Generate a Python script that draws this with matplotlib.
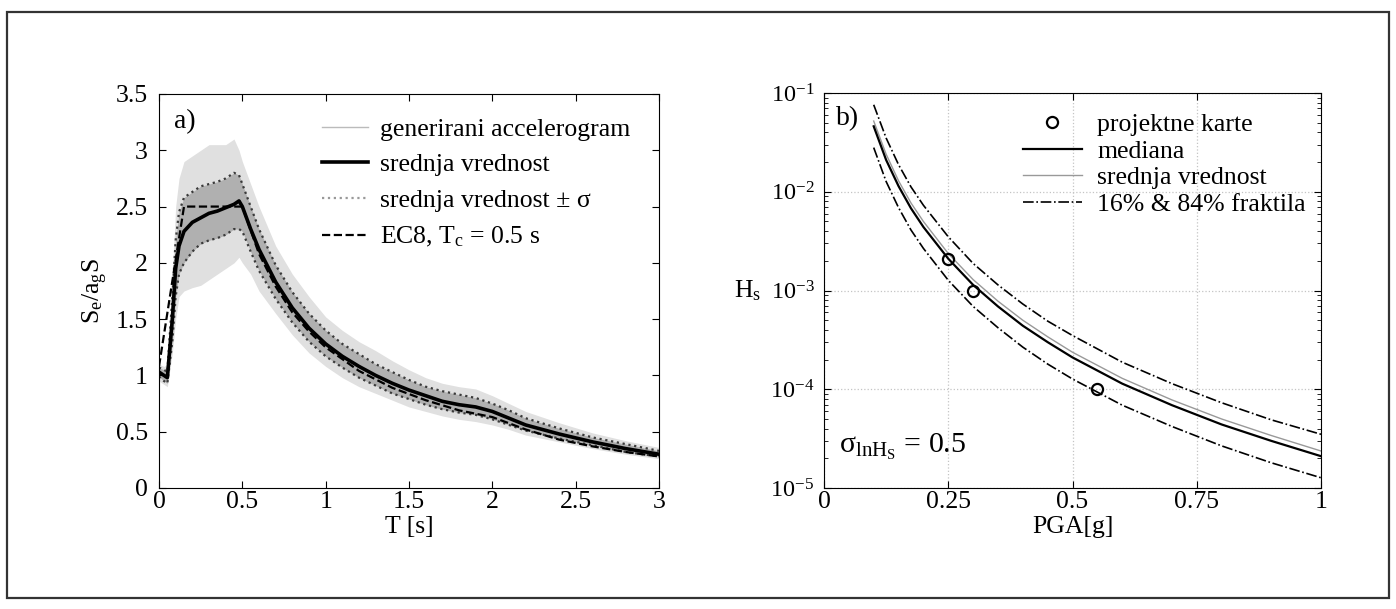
import matplotlib
matplotlib.use('Agg')
import matplotlib.pyplot as plt
from matplotlib.lines import Line2D
from matplotlib.patches import Rectangle

plt.rcParams['font.family'] = ['Liberation Serif', 'DejaVu Serif']
plt.rcParams['mathtext.fontset'] = 'custom'
plt.rcParams['mathtext.rm'] = 'Liberation Serif'
plt.rcParams['mathtext.it'] = 'Liberation Serif:italic'

# --- a) spectra, values ---
T = [0, 0.03, 0.05, 0.08, 0.1, 0.12, 0.15, 0.2, 0.25, 0.3, 0.35, 0.4, 0.45, 0.48,
     0.5, 0.55, 0.6, 0.7, 0.8, 0.9, 1.0, 1.1, 1.2, 1.3, 1.4, 1.5, 1.6, 1.7, 1.8,
     1.9, 2.0, 2.1, 2.2, 2.4, 2.6, 2.8, 3.0]
mean = [1.03, 1.0, 0.98, 1.5, 1.95, 2.15, 2.28, 2.36, 2.4, 2.44, 2.46, 2.49, 2.52, 2.55,
        2.5, 2.3, 2.12, 1.83, 1.6, 1.42, 1.28, 1.17, 1.08, 1.0, 0.93, 0.87, 0.82, 0.77,
        0.74, 0.72, 0.68, 0.62, 0.56, 0.48, 0.41, 0.35, 0.30]
sig_hi = [1.07, 1.05, 1.03, 1.7, 2.2, 2.45, 2.58, 2.63, 2.68, 2.7, 2.72, 2.75, 2.8, 2.78,
          2.7, 2.5, 2.3, 1.98, 1.74, 1.55, 1.4, 1.28, 1.19, 1.1, 1.03, 0.96, 0.9, 0.86,
          0.83, 0.8, 0.75, 0.69, 0.62, 0.53, 0.45, 0.39, 0.33]
sig_lo = [0.99, 0.95, 0.93, 1.3, 1.7, 1.9, 2.0, 2.1, 2.17, 2.2, 2.22, 2.25, 2.3, 2.3,
          2.28, 2.1, 1.93, 1.68, 1.47, 1.3, 1.17, 1.07, 0.98, 0.91, 0.84, 0.79, 0.74, 0.70,
          0.67, 0.65, 0.61, 0.56, 0.51, 0.44, 0.38, 0.32, 0.28]
cloud_hi = [1.1, 1.08, 1.1, 1.9, 2.5, 2.75, 2.9, 2.95, 3.0, 3.05, 3.05, 3.05, 3.1, 3.0,
            2.9, 2.7, 2.5, 2.15, 1.9, 1.7, 1.52, 1.4, 1.3, 1.22, 1.13, 1.05, 0.98, 0.93,
            0.9, 0.88, 0.82, 0.75, 0.68, 0.58, 0.49, 0.42, 0.36]
cloud_lo = [0.95, 0.92, 0.9, 1.2, 1.5, 1.7, 1.75, 1.78, 1.8, 1.85, 1.9, 1.95, 2.0, 2.05,
            2.0, 1.9, 1.75, 1.55, 1.36, 1.2, 1.08, 0.98, 0.9, 0.84, 0.78, 0.72, 0.68, 0.64,
            0.61, 0.59, 0.56, 0.52, 0.47, 0.41, 0.35, 0.30, 0.26]
T_ec8 = [0, 0.15, 0.5, 0.6, 0.7, 0.8, 0.9, 1.0, 1.2, 1.4, 1.6, 1.8, 2.0, 2.2, 2.4, 2.6, 2.8, 3.0]
ec8 = [1.08, 2.5, 2.5, 2.08, 1.79, 1.56, 1.39, 1.25, 1.04, 0.89, 0.78, 0.69, 0.63, 0.52,
       0.43, 0.37, 0.32, 0.28]
xt_a = [0, 0.5, 1, 1.5, 2, 2.5, 3]
xl_a = ['0', '0.5', '1', '1.5', '2', '2.5', '3']
yt_a = [0, 0.5, 1, 1.5, 2, 2.5, 3, 3.5]
yl_a = ['0', '0.5', '1', '1.5', '2', '2.5', '3', '3.5']

# --- b) hazard curves ---
pga = [0.1, 0.125, 0.15, 0.175, 0.2, 0.25, 0.3, 0.35, 0.4, 0.45, 0.5, 0.6, 0.7, 0.8, 0.9, 1.0]
median = [4.6e-2, 2.1e-2, 1.14e-2, 6.8e-3, 4.4e-3, 2.1e-3, 1.14e-3, 6.9e-4, 4.4e-4, 3.0e-4,
          2.1e-4, 1.14e-4, 6.9e-5, 4.4e-5, 3.0e-5, 2.1e-5]
mean_h = [5.2e-2, 2.4e-2, 1.29e-2, 7.7e-3, 5.0e-3, 2.37e-3, 1.29e-3, 7.8e-4, 5.0e-4, 3.4e-4,
          2.37e-4, 1.29e-4, 7.8e-5, 5.0e-5, 3.4e-5, 2.37e-5]
frac84 = [7.6e-2, 3.5e-2, 1.88e-2, 1.12e-2, 7.3e-3, 3.5e-3, 1.88e-3, 1.14e-3, 7.3e-4, 4.9e-4,
          3.5e-4, 1.88e-4, 1.14e-4, 7.3e-5, 4.9e-5, 3.5e-5]
frac16 = [2.8e-2, 1.27e-2, 6.9e-3, 4.1e-3, 2.67e-3, 1.27e-3, 6.9e-4, 4.2e-4, 2.67e-4, 1.8e-4,
          1.27e-4, 6.9e-5, 4.2e-5, 2.67e-5, 1.8e-5, 1.27e-5]
karte_x = [0.25, 0.3, 0.55]
karte_y = [2.1e-3, 1.0e-3, 1.0e-4]
xt_b = [0, 0.25, 0.5, 0.75, 1]
xl_b = ['0', '0.25', '0.5', '0.75', '1']
yt_b = [1e-5, 1e-4, 1e-3, 1e-2, 1e-1]
yl_b = [r'$10^{-5}$', r'$10^{-4}$', r'$10^{-3}$', r'$10^{-2}$', r'$10^{-1}$']

W, H = 1396, 609
fig = plt.figure(figsize=(W / 100, H / 100), dpi=100)
fig.patches.append(Rectangle((7 / W, 1 - 598 / H), 1382 / W, 586 / H, transform=fig.transFigure,
                             fill=False, edgecolor='#333333', lw=1.6))

fs = 18.5

# a)
ax1 = fig.add_axes([159 / W, 1 - 488 / H, 500 / W, 394 / H])
ax1.fill_between(T, cloud_lo, cloud_hi, color='#e0e0e0', lw=0)
ax1.fill_between(T, sig_lo, sig_hi, color='#b0b0b0', lw=0)
ax1.plot(T, sig_hi, color='#3a3a3a', ls=':', lw=1.6)
ax1.plot(T, sig_lo, color='#3a3a3a', ls=':', lw=1.6)
ax1.plot(T_ec8, ec8, color='k', ls='--', lw=1.6)
ax1.plot(T, mean, color='k', lw=2.6)
ax1.set_xlim(0, 3)
ax1.set_ylim(0, 3.5)
ax1.set_xticks(xt_a)
ax1.set_xticklabels(xl_a)
ax1.set_yticks(yt_a)
ax1.set_yticklabels(yl_a)
ax1.tick_params(direction='in', top=True, right=True, length=5, labelsize=fs)
ax1.tick_params(axis='x', pad=2)
ax1.tick_params(axis='y', pad=8)
ax1.set_xlabel('T [s]', fontsize=fs, labelpad=2)
ax1.set_ylabel(r'S$_\mathrm{e}$/a$_\mathrm{g}$S', fontsize=fs, labelpad=4)
ax1.text(0.03, 0.93, 'a)', transform=ax1.transAxes, fontsize=fs + 1.5, va='center')
h1 = [Line2D([], [], color='#bbbbbb', lw=1),
      Line2D([], [], color='k', lw=2.6),
      Line2D([], [], color='#999999', ls=':', lw=1.6),
      Line2D([], [], color='k', ls='--', lw=1.6)]
l1 = ['generirani accelerogram', 'srednja vrednost', 'srednja vrednost ± σ',
      r'EC8, T$_\mathrm{c}$ = 0.5 s']
ax1.legend(h1, l1, loc='upper left', bbox_to_anchor=(0.326, 0.94), frameon=False, fontsize=fs,
           handlelength=1.8, handletextpad=0.45, labelspacing=0.5, borderpad=0, borderaxespad=0)

# b)
ax2 = fig.add_axes([824 / W, 1 - 488 / H, 497 / W, 395 / H])
ax2.set_yscale('log')
ax2.grid(True, which='major', ls=':', color='#c4c4c4', lw=0.9)
ax2.plot(pga, frac84, color='k', ls='-.', lw=1.2)
ax2.plot(pga, frac16, color='k', ls='-.', lw=1.2)
ax2.plot(pga, mean_h, color='#999999', lw=1.0)
ax2.plot(pga, median, color='k', lw=1.6)
ax2.plot(karte_x, karte_y, 'o', mfc='none', mec='k', mew=1.6, ms=8)
ax2.set_xlim(0, 1)
ax2.set_ylim(1e-5, 1e-1)
ax2.set_xticks(xt_b)
ax2.set_xticklabels(xl_b)
ax2.set_yticks(yt_b)
ax2.set_yticklabels(yl_b)
ax2.tick_params(which='both', direction='in', top=True, right=True, labelsize=fs)
ax2.tick_params(axis='x', pad=2)
ax2.tick_params(axis='y', pad=7, labelsize=fs - 1)
ax2.tick_params(which='major', length=5)
ax2.tick_params(which='minor', length=3)
ax2.set_xlabel('PGA[g]', fontsize=fs, labelpad=2)
ax2.set_ylabel(r'H$_\mathrm{s}$', fontsize=fs, rotation=0, va='center', labelpad=16)
ax2.text(0.025, 0.935, 'b)', transform=ax2.transAxes, fontsize=fs + 1.5, va='center')
ax2.text(0.03, 0.065, r'σ$_{\mathrm{lnH}_\mathrm{S}}$ = 0.5', transform=ax2.transAxes,
         fontsize=fs + 3, va='bottom')
h2 = [Line2D([], [], ls='none', marker='o', mfc='none', mec='k', mew=1.6, ms=8),
      Line2D([], [], color='k', lw=1.6),
      Line2D([], [], color='#999999', lw=1.0),
      Line2D([], [], color='k', ls='-.', lw=1.2)]
l2 = ['projektne karte', 'mediana', 'srednja vrednost', '16% & 84% fraktila']
ax2.legend(h2, l2, loc='upper left', bbox_to_anchor=(0.4, 0.95), frameon=False, fontsize=fs,
           handlelength=2.3, handletextpad=0.6, labelspacing=0.15, borderpad=0, borderaxespad=0)

fig.savefig('out.png', dpi=100)
